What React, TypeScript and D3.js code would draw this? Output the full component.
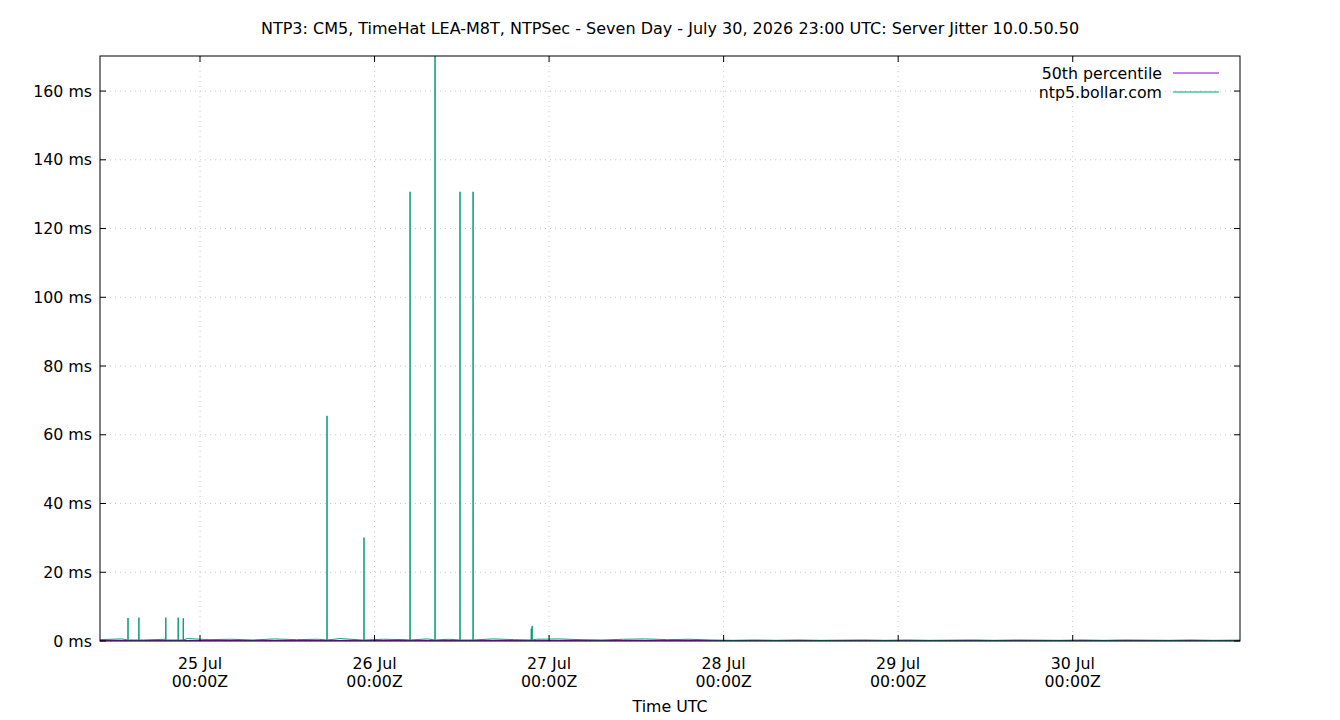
import React from "react";
import * as d3 from "d3";

const TITLE =
  "NTP3: CM5, TimeHat LEA-M8T, NTPSec - Seven Day - July 30, 2026 23:00 UTC: Server Jitter 10.0.50.50";

const seriesNames = ["50th percentile", "ntp5.bollar.com"];
const seriesColors = ["#9400d3", "#009e73"];

const startTime = "2026-07-24T10:15:00Z";
const endTime = "2026-07-30T23:00:00Z";

const yTicks = [0, 20, 40, 60, 80, 100, 120, 140, 160];
const dayTicks = [
  "2026-07-25T00:00:00Z",
  "2026-07-26T00:00:00Z",
  "2026-07-27T00:00:00Z",
  "2026-07-28T00:00:00Z",
  "2026-07-29T00:00:00Z",
  "2026-07-30T00:00:00Z",
];

// median jitter (ms)
const p50Value = 0.1;

// baseline jitter, one reading every 3 hours (ms)
const baseValues = [
  0.4, 0.6, 0.3, 0.5, 0.7, 0.4, 0.5, 0.3, 0.6, 0.4, 0.5, 0.7, 0.3, 0.5,
  0.4, 0.6, 0.5, 0.3, 0.6, 0.4, 0.5, 0.6, 0.4, 0.3, 0.5, 0.6, 0.4, 0.5,
  0.3, 0.2, 0.3, 0.2, 0.3, 0.2, 0.25, 0.3, 0.2, 0.3, 0.2, 0.25, 0.3, 0.2,
  0.3, 0.25, 0.2, 0.3, 0.2, 0.3, 0.25, 0.2, 0.3, 0.2, 0.25, 0.3,
];

// jitter spikes
const spikeTimes = [
  "2026-07-24T14:06:00Z",
  "2026-07-24T15:36:00Z",
  "2026-07-24T19:18:00Z",
  "2026-07-24T21:00:00Z",
  "2026-07-24T21:42:00Z",
  "2026-07-25T17:28:00Z",
  "2026-07-25T22:33:00Z",
  "2026-07-26T04:53:00Z",
  "2026-07-26T08:19:00Z",
  "2026-07-26T11:45:00Z",
  "2026-07-26T13:33:00Z",
  "2026-07-26T21:33:00Z",
  "2026-07-26T21:40:00Z",
];
const spikeValues = [6.7, 6.8, 6.8, 6.8, 6.6, 65.5, 30.1, 130.7, 185, 130.7, 130.7, 3.6, 4.4];

const W = 1340;
const H = 720;
const margin = { top: 56, right: 100, bottom: 79, left: 100 };
const FONT = "DejaVu Sans, sans-serif";
const FS = 15.8;

export default function App() {
  const innerW = W - margin.left - margin.right;
  const innerH = H - margin.top - margin.bottom;
  const t0 = new Date(startTime);
  const t1 = new Date(endTime);

  const x = d3.scaleUtc().domain([t0, t1]).range([0, innerW]);
  const y = d3.scaleLinear().domain([0, 170.2]).range([innerH, 0]);

  // build ntp5 points: baseline readings plus spikes
  const pts: [number, number][] = baseValues.map((v, i) => [
    t0.getTime() + i * 3 * 3600 * 1000,
    v,
  ]);
  spikeTimes.forEach((s, i) => {
    const t = new Date(s).getTime();
    pts.push([t - 60000, 0.3]);
    pts.push([t, spikeValues[i]]);
    pts.push([t + 60000, 0.3]);
  });
  pts.sort((a, b) => a[0] - b[0]);

  const line = d3
    .line<[number, number]>()
    .x((d) => x(new Date(d[0])))
    .y((d) => y(d[1]));

  const p50: [number, number][] = [
    [t0.getTime(), p50Value],
    [t1.getTime(), p50Value],
  ];

  const fmt = d3.utcFormat("%d %b");

  return (
    <svg
      width={W}
      height={H}
      style={{ position: "absolute", left: 0, top: 0, background: "#fff" }}
      fontFamily={FONT}
    >
      <defs>
        <clipPath id="plot">
          <rect x={0} y={0} width={innerW} height={innerH} />
        </clipPath>
      </defs>
      <text x={670} y={34} textAnchor="middle" fontSize={16}>
        {TITLE}
      </text>
      <g transform={`translate(${margin.left},${margin.top})`}>
        {/* grid */}
        {yTicks.map((t) => (
          <line
            key={"gy" + t}
            x1={0}
            x2={innerW}
            y1={y(t)}
            y2={y(t)}
            stroke="#c8c8c8"
            strokeWidth={1}
            strokeDasharray="1,4"
          />
        ))}
        {dayTicks.map((d) => (
          <line
            key={"gx" + d}
            x1={x(new Date(d))}
            x2={x(new Date(d))}
            y1={0}
            y2={innerH}
            stroke="#c8c8c8"
            strokeWidth={1}
            strokeDasharray="1,4"
          />
        ))}

        {/* series */}
        <g clipPath="url(#plot)">
          <path d={line(p50) || ""} fill="none" stroke={seriesColors[0]} strokeWidth={1} />
          <path d={line(pts) || ""} fill="none" stroke={seriesColors[1]} strokeWidth={1} />
        </g>

        {/* border */}
        <rect x={0} y={0} width={innerW} height={innerH} fill="none" stroke="#000" strokeWidth={1} />

        {/* y ticks */}
        {yTicks.map((t) => (
          <g key={"ty" + t}>
            <line x1={0} x2={6} y1={y(t)} y2={y(t)} stroke="#000" />
            <line x1={innerW - 6} x2={innerW} y1={y(t)} y2={y(t)} stroke="#000" />
            <text x={-8} y={y(t) + 5.5} textAnchor="end" fontSize={FS}>
              {`${t} ms`}
            </text>
          </g>
        ))}

        {/* x ticks */}
        {dayTicks.map((d) => {
          const px = x(new Date(d));
          return (
            <g key={"tx" + d}>
              <line x1={px} x2={px} y1={innerH} y2={innerH - 6} stroke="#000" />
              <line x1={px} x2={px} y1={0} y2={6} stroke="#000" />
              <text x={px} y={innerH + 28} textAnchor="middle" fontSize={FS}>
                {fmt(new Date(d))}
              </text>
              <text x={px} y={innerH + 46} textAnchor="middle" fontSize={FS}>
                00:00Z
              </text>
            </g>
          );
        })}

        <text x={innerW / 2} y={innerH + 71} textAnchor="middle" fontSize={FS}>
          Time UTC
        </text>

        {/* legend */}
        {seriesNames.map((n, i) => (
          <g key={n} transform={`translate(0,${17 + i * 19})`}>
            <text x={1062} y={5.5} textAnchor="end" fontSize={FS}>
              {n}
            </text>
            <line x1={1073} x2={1119} y1={0} y2={0} stroke={seriesColors[i]} strokeWidth={1} />
          </g>
        ))}
      </g>
    </svg>
  );
}
